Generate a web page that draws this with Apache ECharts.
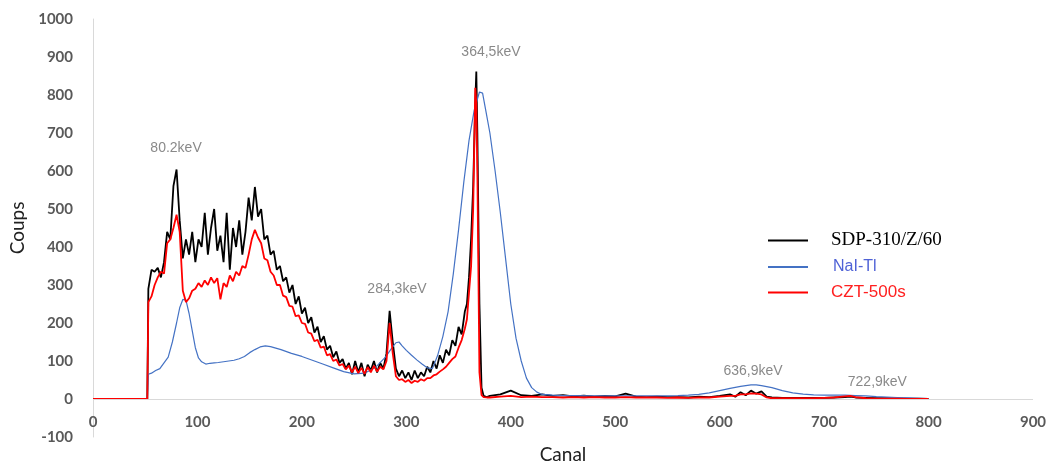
<!DOCTYPE html>
<html>
<head>
<meta charset="utf-8">
<script src="https://cdn.jsdelivr.net/npm/echarts@6/dist/echarts.min.js"></script>
<style>
  html, body { margin: 0; padding: 0; background: #fff; }
  #grafico_espectro { width: 1052px; height: 463px; }
</style>
</head>
<body>
<div id="grafico_espectro"></div>
<script>
// canaux communs SDP / CZT
const canaux = [0, 50, 52,
  53, 56, 59, 62, 65, 68, 71, 74, 77, 80, 83, 86, 89, 92, 95, 98, 101, 104, 107, 110, 113, 116, 119, 122, 125, 128,
  131, 134, 137, 140, 143, 146, 149, 152, 155, 158, 161, 164, 167, 170, 173, 176, 179, 182, 185, 188, 191, 194, 197,
  200, 203, 206, 209, 212, 215, 218, 221, 224, 227, 230, 233, 236, 239, 242, 245, 248, 251, 254, 257, 260, 263, 266,
  269, 272, 275, 278, 281, 284, 287, 290, 293, 296, 299, 302, 305, 308, 311, 314, 317, 320, 323, 326, 329, 332, 335,
  338, 341, 344, 347, 350, 353, 356,
  358, 360, 362, 364, 366, 367, 368, 370, 372, 374, 377,
  380, 390, 400, 410, 420, 430, 440, 450, 460, 470, 480, 490, 500, 510, 520, 530, 540, 550, 560, 570, 580, 590, 600,
  610, 615, 620, 625, 630, 635, 640, 645, 650, 660, 670, 680, 690, 700, 710, 720, 725, 730, 740, 750, 760, 770, 780, 790, 800]

const sdp = [0, 0, 0,
  290, 340, 335, 345, 320, 360, 440, 420, 560, 604, 470, 370, 420, 380, 440, 360, 420, 400, 490, 380, 450, 500, 390, 430, 360, 490,
  340, 450, 400, 470, 380, 440, 530, 470, 558, 480, 500, 420, 430, 380, 390, 340, 350, 310, 320, 280, 300, 250, 270,
  225, 240, 200, 215, 175, 190, 150, 165, 130, 140, 110, 125, 95, 105, 80, 95, 65, 100, 70, 95, 60, 90, 75,
  100, 70, 95, 80, 120, 232, 150, 80, 60, 75, 55, 70, 50, 75, 55, 70, 60, 85, 70, 100, 80, 115, 95,
  130, 115, 155, 140, 190, 170, 230,
  250, 320, 420, 560, 780, 862, 700, 250, 30, 8, 5,
  8, 12, 22, 10, 8, 12, 8, 10, 7, 9, 6, 8, 7, 14, 6, 5, 6, 5, 5, 4, 6, 5, 8,
  12, 6, 18, 10, 22, 14, 20, 6, 4, 3, 3, 3, 3, 3, 4, 5, 6, 4, 3, 2, 2, 1, 1, 1, 0]

const czt = [0, 0, 0,
  255, 270, 300, 320, 335, 330, 410, 420, 450, 485, 440, 285, 255, 265, 285,
  290, 305, 295, 312, 300, 320, 305, 318, 262, 305, 295, 325, 310, 335, 325, 350, 345, 380, 420, 445,
  425, 410, 370, 365, 335, 325, 300, 300, 272, 268, 245, 243, 218, 220,
  200, 198, 175, 172, 152, 156, 135, 138, 115, 118, 100, 104, 88, 92, 78, 88, 70, 85, 68, 82, 66, 84, 70, 88, 72, 85, 78,
  100, 200, 120, 60, 50, 52, 45, 50, 42, 48, 45, 52, 48, 55, 55, 62, 65, 72, 78,
  85, 95, 105, 112, 135, 155, 185,
  210, 280, 349, 500, 819, 780, 600, 70, 10, 5, 4,
  4, 6, 8, 5, 6, 5, 5, 4, 5, 4, 5, 4, 4, 5, 4, 4, 4, 3, 4, 3, 4, 4, 6,
  8, 8, 12, 12, 15, 14, 12, 4, 2, 2, 2, 2, 2, 3, 4, 7, 8, 5, 2, 1, 1, 1, 0, 0, 0]

// NaI-Tl (courbe lisse)
const canauxNai = [0, 52, 53, 56, 60, 64, 68, 72, 76, 80, 83, 86, 89, 92, 95, 98, 101, 104, 108, 112, 116, 120, 125, 130,
  135, 140, 145, 150, 155, 160, 165, 170, 175, 180, 190, 200, 210, 220, 230, 240, 250, 260, 270, 280, 285, 290, 293,
  296, 300, 305, 310, 315, 320, 325, 330, 335, 340, 345, 350, 355, 360, 365, 370, 373, 376, 380, 385, 390, 395, 400,
  405, 410, 415, 420, 425, 430, 440, 450, 460, 480, 500, 520, 540, 560, 570, 580, 590, 600, 610, 620, 630, 635, 640,
  650, 660, 670, 680, 690, 700, 710, 720, 730, 740, 750, 760, 770, 780, 790, 800]

const nai = [0, 0, 65, 68, 75, 80, 95, 110, 150, 200, 240, 262, 260, 225, 180, 135, 108, 98, 92, 94, 95, 96, 98, 100,
  102, 106, 112, 122, 130, 137, 140, 138, 134, 130, 120, 112, 102, 92, 82, 72, 66, 68, 82, 110, 130, 148, 150,
  140, 128, 115, 103, 92, 82, 80, 115, 165, 230, 330, 445, 570, 680, 760, 808, 805, 760, 700, 600, 490, 370, 250,
  160, 100, 55, 30, 18, 12, 10, 9, 9, 8, 8, 8, 8, 9, 10, 12, 16, 22, 28, 33, 37, 37, 35,
  30, 22, 16, 13, 11, 10, 10, 10, 9, 8, 6, 5, 4, 3, 2, 1]

// étiquettes des pics
const picsNoms = ['80.2keV', '364,5keV', '284,3keV', '636,9keV', '722,9keV']
const picsX = [79.5, 381, 291, 632, 751]
const picsY = [661, 913, 289, 73, 45]

const chart = echarts.init(document.getElementById('grafico_espectro'))

function paires(xs, ys) {
  return xs.map((x, i) => [x, ys[i]])
}

const option = {
  animation: false,
  grid: { left: 93, right: 19, top: 19, bottom: 26, outerBoundsMode: 'none' },
  legend: {
    orient: 'vertical',
    left: 763,
    top: 226,
    icon: 'rect',
    itemWidth: 40,
    itemHeight: 2,
    itemGap: 9,
    data: [
      { name: 'SDP-310/Z/60', textStyle: { color: '#000', fontFamily: 'Liberation Serif', fontSize: 19, padding: [0, 0, 0, 18] } },
      { name: 'NaI-Tl', textStyle: { color: '#4f62d6', fontFamily: 'Liberation Sans', fontSize: 16, padding: [0, 0, 0, 20] } },
      { name: 'CZT-500s', textStyle: { color: '#ff2020', fontFamily: 'Liberation Sans', fontSize: 17, padding: [0, 0, 0, 18] } }
    ]
  },
  xAxis: {
    type: 'value',
    min: 0,
    max: 900,
    interval: 100,
    name: 'Canal',
    nameLocation: 'middle',
    nameGap: 8,
    nameTextStyle: { fontFamily: 'Lato', fontSize: 19, color: '#222' },
    axisLine: { show: false, onZero: false },
    axisTick: { show: false },
    splitLine: { show: false },
    axisLabel: { margin: -22, fontFamily: 'Lato', fontWeight: 'bold', fontSize: 15, color: '#595959' }
  },
  yAxis: {
    type: 'value',
    min: -100,
    max: 1000,
    interval: 100,
    name: 'Coups',
    nameLocation: 'middle',
    nameGap: 66,
    nameTextStyle: { fontFamily: 'Lato', fontSize: 19, color: '#222' },
    axisLine: { show: true, onZero: false, lineStyle: { color: '#d9d9d9', width: 1 } },
    axisTick: { show: false },
    splitLine: { show: false },
    axisLabel: {
      margin: 20, fontFamily: 'Lato', fontWeight: 'bold', fontSize: 15, color: '#595959',
      formatter: v => String(v)
    }
  },
  series: [
    {
      name: 'pics',
      type: 'scatter',
      symbolSize: 0,
      silent: true,
      z: 1,
      data: picsNoms.map((n, i) => ({ name: n, value: [picsX[i], picsY[i]] })),
      label: {
        show: true,
        position: 'inside',
        formatter: '{b}',
        fontFamily: 'Liberation Sans',
        fontSize: 14,
        color: '#6b6b6b'
      },
      // ligne du zéro, comme l'axe horizontal d'Excel
      markLine: {
        silent: true,
        symbol: 'none',
        label: { show: false },
        lineStyle: { color: '#d9d9d9', type: 'solid', width: 1 },
        data: [{ yAxis: 0 }]
      }
    },
    {
      name: 'SDP-310/Z/60',
      type: 'line',
      symbol: 'none',
      data: paires(canaux, sdp),
      lineStyle: { color: '#000', width: 1.8 },
      itemStyle: { color: '#000' }
    },
    {
      name: 'NaI-Tl',
      type: 'line',
      symbol: 'none',
      data: paires(canauxNai, nai),
      lineStyle: { color: '#4472c4', width: 1.2 },
      itemStyle: { color: '#4472c4' }
    },
    {
      name: 'CZT-500s',
      type: 'line',
      symbol: 'none',
      data: paires(canaux, czt),
      lineStyle: { color: '#ff0000', width: 1.8 },
      itemStyle: { color: '#ff0000' }
    }
  ]
}

chart.setOption(option)
</script>
</body>
</html>
